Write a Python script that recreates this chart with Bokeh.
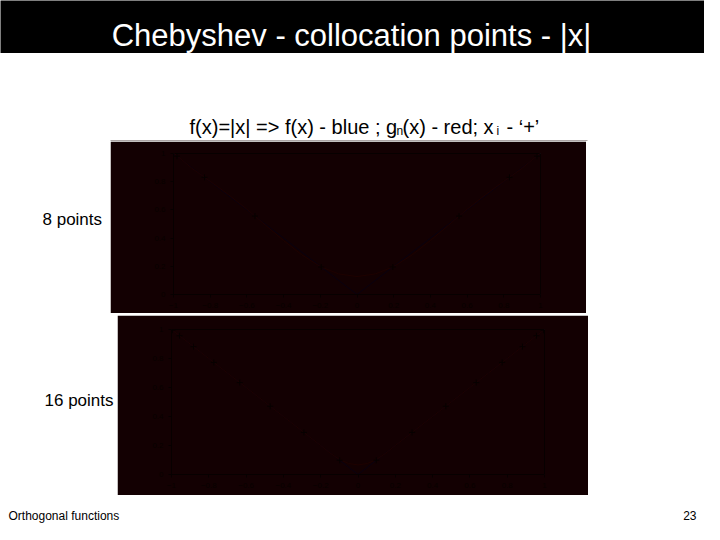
from bokeh.plotting import figure
from bokeh.layouts import column, row
from bokeh.models import Label, FixedTicker, BoxAnnotation
from bokeh.embed import file_html
from bokeh.resources import INLINE

# ---- data ----
title_text = "Chebyshev - collocation points - |x|"
row_labels = ["8 points", "16 points"]
footer_left = "Orthogonal functions"
footer_right = "23"

f_x = [-1.0, 0.0, 1.0]
f_y = [1.0, 0.0, 1.0]

g8_x = [-1.0, -0.9, -0.8, -0.7, -0.6, -0.5, -0.4, -0.3, -0.2, -0.1, 0.0,
        0.1, 0.2, 0.3, 0.4, 0.5, 0.6, 0.7, 0.8, 0.9, 1.0]
g8_y = [1.005, 0.895, 0.803, 0.708, 0.605, 0.493, 0.382, 0.280, 0.198, 0.146, 0.127,
        0.146, 0.198, 0.280, 0.382, 0.493, 0.605, 0.708, 0.803, 0.895, 1.005]
n8_x = [-0.981, -0.831, -0.556, -0.195, 0.195, 0.556, 0.831, 0.981]
n8_y = [0.981, 0.831, 0.556, 0.195, 0.195, 0.556, 0.831, 0.981]

g16_x = [-1.0, -0.9, -0.8, -0.7, -0.6, -0.5, -0.4, -0.3, -0.2, -0.15, -0.1, -0.05, 0.0,
         0.05, 0.1, 0.15, 0.2, 0.3, 0.4, 0.5, 0.6, 0.7, 0.8, 0.9, 1.0]
g16_y = [1.0, 0.9, 0.8, 0.7, 0.6, 0.5, 0.4, 0.3, 0.2, 0.148, 0.104, 0.076, 0.066,
         0.076, 0.104, 0.148, 0.2, 0.3, 0.4, 0.5, 0.6, 0.7, 0.8, 0.9, 1.0]
n16_x = [-0.995, -0.957, -0.882, -0.773, -0.634, -0.471, -0.290, -0.098,
         0.098, 0.290, 0.471, 0.634, 0.773, 0.882, 0.957, 0.995]
n16_y = [0.995, 0.957, 0.882, 0.773, 0.634, 0.471, 0.290, 0.098,
         0.098, 0.290, 0.471, 0.634, 0.773, 0.882, 0.957, 0.995]

x_ticks = [-1.0, -0.8, -0.6, -0.4, -0.2, 0.0, 0.2, 0.4, 0.6, 0.8, 1.0]
y_ticks = [0.0, 0.2, 0.4, 0.6, 0.8, 1.0]

FONT = "Liberation Sans"
BG = "#130002"
DARK = "#070000"
W = 704


def text_fig(w, h, bg="white"):
    p = figure(width=w, height=h, x_range=(0, w), y_range=(0, h), min_border=0,
               toolbar_location=None, output_backend="svg")
    p.axis.visible = False
    p.grid.visible = False
    p.outline_line_color = None
    p.background_fill_color = bg
    p.border_fill_color = bg
    return p


def lab(p, x, y, t, size, color="black", align="left", baseline="middle"):
    p.add_layout(Label(x=x, y=y, text=t, text_font=FONT, text_font_size=f"{size}px",
                       text_color=color, text_align=align, text_baseline=baseline))


def chart(w, h, left, right, top, bottom, gx, gy, nx, ny):
    p = figure(width=w, height=h, x_range=(-1, 1), y_range=(0, 1),
               toolbar_location=None, output_backend="svg",
               min_border_left=left, min_border_right=right,
               min_border_top=top, min_border_bottom=bottom)
    p.background_fill_color = BG
    p.border_fill_color = BG
    p.outline_line_color = DARK
    p.grid.visible = False
    for ax in (p.xaxis[0], p.yaxis[0]):
        ax.axis_line_color = DARK
        ax.major_tick_line_color = DARK
        ax.minor_tick_line_color = None
        ax.major_label_text_color = DARK
        ax.major_label_text_font = FONT
        ax.major_label_text_font_size = "8px"
        ax.major_tick_out = 3
        ax.major_tick_in = 0
    p.xaxis.ticker = FixedTicker(ticks=x_ticks)
    p.yaxis.ticker = FixedTicker(ticks=y_ticks)
    p.line(f_x, f_y, line_color="#0a0010", line_width=1)
    p.line(gx, gy, line_color="#1e0000", line_width=1)
    p.scatter(nx, ny, marker="cross", size=6, line_color=DARK, line_width=1)
    return p


# title bar
t = text_fig(W, 53, bg="black")
lab(t, 351, 18, title_text, 31, color="white", align="center", baseline="alphabetic")

# subtitle
s = text_fig(W, 88)
sy = 15
lab(s, 189, sy, "f(x)=|x| => f(x) - blue ; g", 20, baseline="alphabetic")
lab(s, 396, sy - 4, "n", 12, baseline="alphabetic")
lab(s, 402, sy, "(x) - red; x", 20, baseline="alphabetic")
lab(s, 496, sy - 4, "i", 12, baseline="alphabetic")
lab(s, 506, sy, "- \u2018+\u2019", 20, baseline="alphabetic")
s.add_layout(BoxAnnotation(left=110, right=587, bottom=0, top=1,
                           fill_color="#5a4a4a", fill_alpha=1, line_color=None))

# row 1
l1 = text_fig(110, 172)
lab(l1, 42, 91, row_labels[0], 17)
c1 = chart(476, 172, 63, 46, 12, 19, g8_x, g8_y, n8_x, n8_y)

gap = text_fig(W, 2)

# row 2
l2 = text_fig(117, 180)
lab(l2, 44, 92, row_labels[1], 17)
c2 = chart(471, 180, 54, 44, 14, 21, g16_x, g16_y, n16_x, n16_y)

# footer
f = text_fig(W, 29)
lab(f, 8, 9, footer_left, 12)
lab(f, 696, 9, footer_right, 12, align="right")

layout = column(t, s, row(l1, c1), gap, row(l2, c2), f, spacing=0)

open("out.html", "w").write(file_html(layout, INLINE))
